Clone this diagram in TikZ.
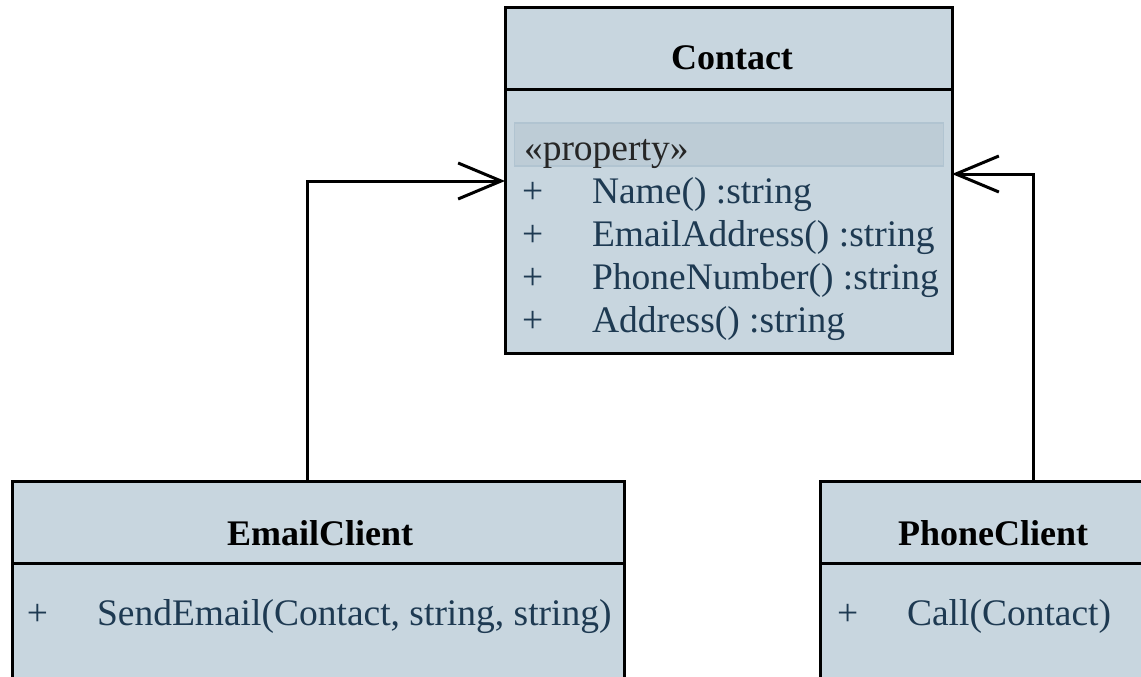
\documentclass[tikz,border=0pt]{standalone}
\usepackage{fontspec}
\setmainfont{Liberation Serif}
\usetikzlibrary{arrows.meta}
\definecolor{boxfill}{RGB}{200,214,223}
\definecolor{bandfill}{RGB}{189,204,214}
\definecolor{bandline}{RGB}{177,196,209}
\definecolor{membertext}{RGB}{30,58,82}

\begin{document}
\begin{tikzpicture}[x=1pt,y=-1pt,
	every node/.style={inner sep=0pt,outer sep=0pt},
	classbox/.style={draw=black,line width=3pt,fill=boxfill},
	classtitle/.style={font=\fontsize{36}{43}\selectfont\bfseries,anchor=base},
	member/.style={font=\fontsize{37.5}{45}\selectfont,text=membertext,anchor=base west},
	assoc/.style={line width=3pt,-{Straight Barb[length=43pt,width=36pt]}}]
	\clip (0,0) rectangle (1141,677);
	\fill[white] (0,0) rectangle (1141,677);
	\node[classbox,minimum width=447pt,minimum height=345pt] (contact) at (728.5,180.5) {};
	\draw[line width=3pt] (contact.west |- 0,90) -- (contact.east |- 0,90);
	\node[classtitle] (contacttitle) at (732,70) {Contact};
	\node[draw=bandline,fill=bandfill,line width=1.5pt,minimum width=429pt,minimum height=43pt] (band) at (729,144.5) {};
	\node[member,text=black!85] (stereo) at (524,160) {«property»};
	\foreach \i/\lab in {1/{Name() :string}, 2/{EmailAddress() :string}, 3/{PhoneNumber() :string}, 4/{Address() :string}} {
		\node[member] (plus\i) at (522,{160+43*\i}) {+};
		\node[member] (attr\i) at (592,{160+43*\i}) {\lab};
	}
	\node[classbox,minimum width=612pt,minimum height=240pt] (emailclient) at (318,601) {};
	\draw[line width=3pt] (emailclient.west |- 0,563) -- (emailclient.east |- 0,563);
	\node[classtitle] (emailtitle) at (320,545) {EmailClient};
	\node[member] (emailplus) at (27,625) {+};
	\node[member] (sendemail) at (97,625) {SendEmail(Contact, string, string)};
	\node[classbox,minimum width=340pt,minimum height=240pt] (phoneclient) at (990,601) {};
	\draw[line width=3pt] (phoneclient.west |- 0,563) -- (phoneclient.east |- 0,563);
	\node[classtitle] (phonetitle) at (993,545) {PhoneClient};
	\node[member] (phoneplus) at (837,625) {+};
	\node[member] (call) at (907,625) {Call(Contact)};
	\draw[assoc] (emailclient.north -| 307,0) |- (contact.west |- 0,181);
	\draw[assoc] (phoneclient.north -| 1033,0) |- (contact.east |- 0,174);
\end{tikzpicture}
\end{document}
